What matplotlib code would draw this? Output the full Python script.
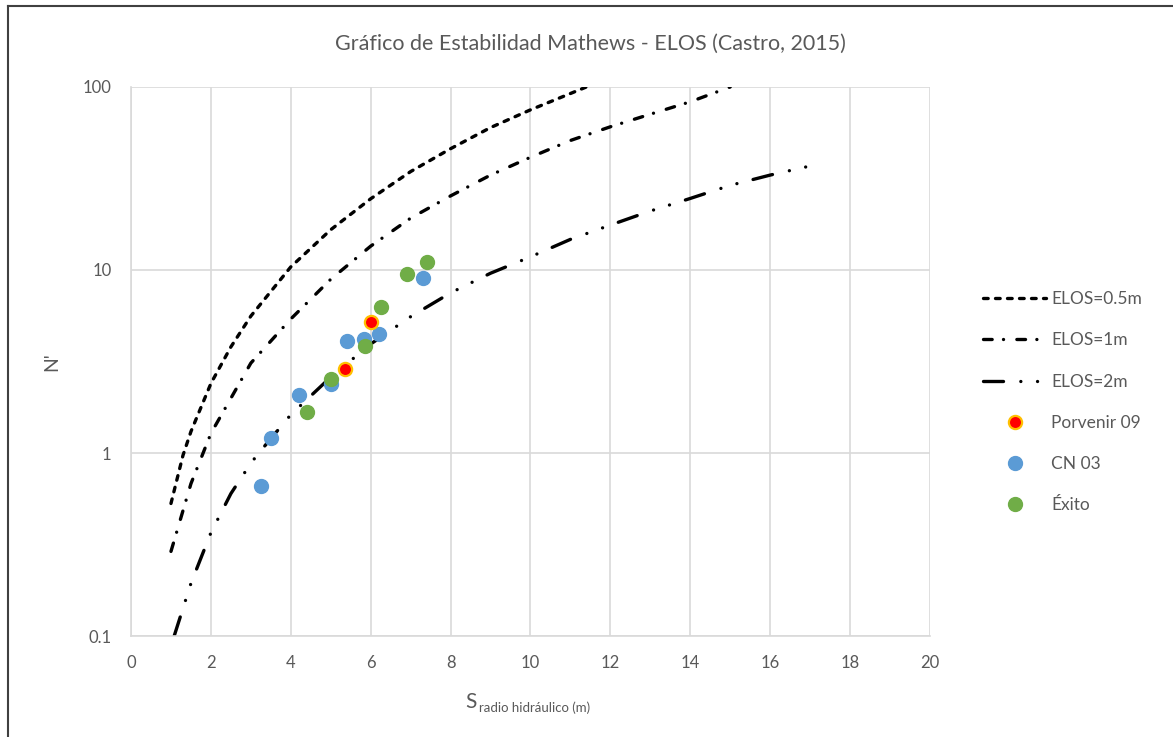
import matplotlib.pyplot as plt
import matplotlib.ticker as ticker
from matplotlib.lines import Line2D

plt.rcParams['font.family'] = ['Lato', 'DejaVu Sans']

# curves (S, N')
elos05_s = [1.0, 1.3, 1.5, 2.0, 2.5, 3.0, 4.0, 5.0, 6.0, 7.0, 8.0, 9.0, 10.0, 11.4]
elos05_n = [0.53, 0.97, 1.31, 2.4, 3.8, 5.6, 10.4, 16.6, 24.5, 34.5, 46, 60, 75, 100]

elos1_s = [1.0, 1.5, 2.0, 3.0, 4.0, 5.0, 6.0, 7.0, 8.0, 9.0, 10.0, 11.0, 12.0, 13.0, 14.0, 15.0]
elos1_n = [0.29, 0.68, 1.28, 3.1, 5.4, 8.9, 13.5, 19.2, 25.4, 33, 41.3, 51, 60.6, 71, 83, 100]

elos2_s = [1.08, 1.5, 2.0, 2.5, 3.0, 3.2, 4.0, 5.0, 6.0, 7.0, 8.0, 9.0, 10.0, 11.0, 12.0, 13.0, 14.0, 15.0, 16.0, 17.0]
elos2_n = [0.1, 0.194, 0.367, 0.6, 0.88, 1.0, 1.62, 2.6, 3.94, 5.56, 7.5, 9.6, 11.8, 14.7, 17.6, 21, 24.6, 29, 33, 37]

# data points
porvenir_s = [5.36, 6.01]
porvenir_n = [2.88, 5.2]

cn03_s = [3.25, 3.50, 4.20, 5.00, 5.41, 5.82, 6.22, 7.30]
cn03_n = [0.66, 1.21, 2.08, 2.38, 4.11, 4.18, 4.47, 9.0]

exito_s = [4.41, 5.00, 5.85, 6.26, 6.91, 7.41]
exito_n = [1.68, 2.54, 3.84, 6.25, 9.5, 11.0]

grey = '#595959'

fig = plt.figure(figsize=(11.73, 7.37), dpi=100)
ax = fig.add_axes([0.1117, 0.137, 0.6811, 0.745])

lw = 2.4
ax.plot(elos05_s, elos05_n, color='black', lw=lw, dashes=(1.4, 2.2),
        dash_capstyle='round', label='ELOS=0.5m')
ax.plot(elos1_s, elos1_n, color='black', lw=lw, dashes=(2.6, 3.4, 0.01, 4),
        dash_capstyle='round', label='ELOS=1m')
ax.plot(elos2_s, elos2_n, color='black', lw=lw, dashes=(6, 5.2, 0.01, 5, 0.01, 5),
        dash_capstyle='round', label='ELOS=2m')

ax.plot(porvenir_s, porvenir_n, 'o', ms=9.5, color='#FF0000', mec='#FFC000', mew=1.6,
        label='Porvenir 09', zorder=5)
ax.plot(cn03_s, cn03_n, 'o', ms=10, color='#5B9BD5', mec='#5B9BD5', label='CN 03', zorder=4)
ax.plot(exito_s, exito_n, 'o', ms=10, color='#70AD47', mec='#70AD47', label='Éxito', zorder=4)

ax.set_yscale('log')
ax.set_xlim(0, 20)
ax.set_ylim(0.1, 100)
ax.xaxis.set_major_locator(ticker.MultipleLocator(2))
ax.yaxis.set_major_locator(ticker.LogLocator(base=10, numticks=10))
ax.yaxis.set_minor_locator(ticker.NullLocator())
ax.yaxis.set_major_formatter(ticker.FuncFormatter(lambda v, p: '%g' % v))
ax.grid(True, color='#D9D9D9', lw=1.2)
ax.set_axisbelow(True)
for sp in ['top', 'right']:
    ax.spines[sp].set_visible(False)
for sp in ['left', 'bottom']:
    ax.spines[sp].set_color('#D9D9D9')
    ax.spines[sp].set_linewidth(1.2)
ax.tick_params(length=0, labelsize=12, labelcolor=grey)
ax.tick_params(axis='x', pad=14)
ax.tick_params(axis='y', pad=14)

ax.set_ylabel("N'", fontsize=14, color=grey, labelpad=16)
fig.text(0.503, 0.94, 'Gráfico de Estabilidad Mathews - ELOS (Castro, 2015)',
         ha='center', va='center', fontsize=15.5, color=grey)
fig.text(0.397, 0.047, 'S', fontsize=15, color=grey, ha='left', va='center')
fig.text(0.408, 0.040, 'radio hidráulico (m)', fontsize=9.5, color=grey, ha='left', va='center')

handles, labels = ax.get_legend_handles_labels()
fig.legend(handles, labels, loc='upper left', bbox_to_anchor=(0.825, 0.626),
           frameon=False, fontsize=12.5, handlelength=3.6, labelspacing=1.45,
           handletextpad=0.3, labelcolor=grey)

# outer frame
fig.add_artist(Line2D([0.007, 1.0], [0.992, 0.992], color='#404040', lw=1.5))
fig.add_artist(Line2D([0.007, 0.007], [0.0, 0.992], color='#404040', lw=1.5))

fig.savefig('out.png', dpi=100)
